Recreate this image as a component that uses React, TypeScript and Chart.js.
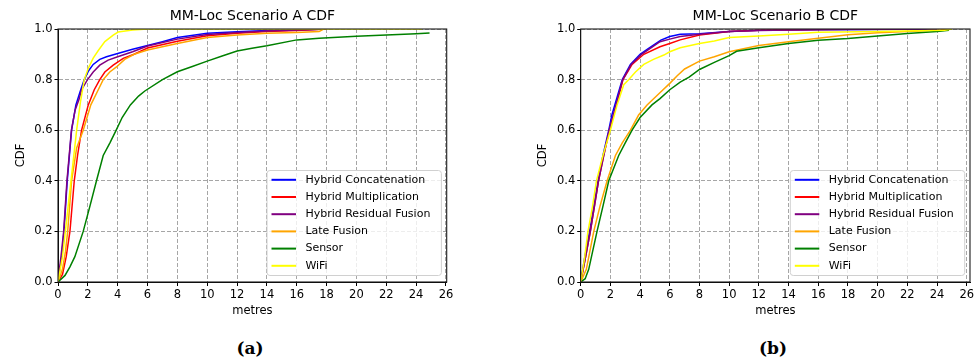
import React, { useEffect, useRef } from "react";
import { Chart, registerables } from "chart.js";

Chart.register(...registerables);

const seriesNames = [
  "Hybrid Concatenation",
  "Hybrid Multiplication",
  "Hybrid Residual Fusion",
  "Late Fusion",
  "Sensor",
  "WiFi",
];
const seriesColors = ["#0000ff", "#ff0000", "#800080", "#ffa500", "#008000", "#ffff00"];

// ---------- Scenario A ----------
const aConcatX = [0, 0.25, 0.4, 0.62, 0.91, 1.2, 1.47, 1.76, 2.05, 2.36, 2.8, 3.25, 4, 5, 6, 7, 8, 10, 12, 14, 16, 18];
const aConcatY = [0, 0.1, 0.2, 0.4, 0.6, 0.7, 0.75, 0.8, 0.835, 0.86, 0.88, 0.89, 0.903, 0.92, 0.935, 0.95, 0.966, 0.983, 0.989, 0.994, 0.996, 1.0];

const aMultX = [0, 0.3, 0.55, 0.8, 1.09, 1.31, 1.58, 2.03, 2.43, 2.8, 3.14, 3.7, 4.37, 5.1, 6, 8, 10, 12, 14, 16, 18];
const aMultY = [0, 0.03, 0.1, 0.2, 0.4, 0.5, 0.6, 0.7, 0.76, 0.8, 0.83, 0.857, 0.884, 0.9, 0.925, 0.952, 0.973, 0.983, 0.99, 0.994, 1.0];

const aResidX = [0, 0.2, 0.38, 0.6, 0.9, 1.15, 1.4, 1.58, 1.98, 2.36, 2.8, 3.36, 4, 5, 6, 8, 10, 12, 14, 16, 18];
const aResidY = [0, 0.1, 0.2, 0.4, 0.6, 0.68, 0.72, 0.76, 0.8, 0.83, 0.857, 0.877, 0.89, 0.91, 0.933, 0.96, 0.978, 0.986, 0.992, 0.996, 1.0];

const aLateX = [0, 0.3, 0.5, 0.65, 0.91, 1.25, 1.69, 2.2, 2.7, 3.03, 3.47, 3.92, 4.47, 5.1, 6, 8, 10, 12, 14, 16, 17.5, 17.8];
const aLateY = [0, 0.05, 0.12, 0.2, 0.4, 0.53, 0.6, 0.7, 0.76, 0.8, 0.83, 0.85, 0.88, 0.9, 0.917, 0.943, 0.966, 0.976, 0.983, 0.986, 0.99, 1.0];

const aSensorX = [0, 0.47, 0.8, 1.13, 1.69, 2.14, 2.58, 3.03, 3.48, 3.9, 4.3, 4.85, 5.4, 5.82, 7, 8, 9, 10, 11, 12, 13, 14, 16, 17.5, 20, 22, 24, 24.9];
const aSensorY = [0, 0.026, 0.06, 0.1, 0.2, 0.3, 0.4, 0.5, 0.55, 0.6, 0.65, 0.7, 0.735, 0.755, 0.8, 0.831, 0.852, 0.873, 0.893, 0.913, 0.924, 0.934, 0.957, 0.963, 0.971, 0.976, 0.981, 0.984];

const aWifiX = [0, 0.3, 0.53, 0.87, 1.25, 1.5, 1.76, 2.03, 2.36, 2.7, 3.14, 3.7, 4.03, 5, 6, 10, 24.4];
const aWifiY = [0, 0.1, 0.22, 0.4, 0.6, 0.71, 0.8, 0.845, 0.885, 0.915, 0.95, 0.976, 0.988, 0.996, 1.0, 1.0, 1.0];

// ---------- Scenario B ----------
const bConcatX = [0, 0.25, 0.6, 1.17, 1.5, 1.89, 2.1, 2.5, 2.8, 3.35, 4.0, 4.5, 5.4, 6.0, 6.7, 8, 10, 12, 16, 20, 24];
const bConcatY = [0, 0.09, 0.2, 0.4, 0.5, 0.6, 0.66, 0.74, 0.8, 0.86, 0.9, 0.92, 0.956, 0.97, 0.979, 0.981, 0.99, 0.995, 0.997, 0.998, 1.0];

const bMultX = [0, 0.3, 0.65, 1.2, 1.55, 1.93, 2.4, 2.85, 3.46, 4.25, 5.34, 6.0, 6.7, 8, 10, 12, 16, 20];
const bMultY = [0, 0.09, 0.2, 0.4, 0.5, 0.6, 0.7, 0.8, 0.86, 0.9, 0.93, 0.943, 0.957, 0.976, 0.99, 0.995, 0.998, 1.0];

const bResidX = [0, 0.3, 0.65, 1.2, 1.55, 1.92, 2.38, 2.83, 3.4, 4.1, 5.34, 6.0, 6.7, 8, 10, 12, 14, 16, 20, 24];
const bResidY = [0, 0.09, 0.2, 0.4, 0.5, 0.6, 0.7, 0.8, 0.86, 0.9, 0.95, 0.96, 0.97, 0.979, 0.99, 0.994, 0.996, 0.998, 0.999, 1.0];

const bLateX = [0, 0.38, 0.88, 1.3, 1.78, 2.34, 2.8, 3.35, 3.9, 4.47, 5.37, 6.0, 6.5, 7, 8, 9, 10, 12, 14, 16, 18, 20, 22, 24, 25];
const bLateY = [0, 0.05, 0.2, 0.3, 0.4, 0.5, 0.55, 0.6, 0.66, 0.7, 0.75, 0.785, 0.815, 0.842, 0.873, 0.89, 0.91, 0.935, 0.95, 0.963, 0.977, 0.985, 0.99, 0.995, 1.0];

const bSensorX = [0, 0.3, 0.54, 0.8, 1.1, 1.5, 1.89, 2.56, 3.0, 3.46, 4.0, 4.8, 5.34, 6.0, 6.7, 7.3, 8, 9, 10, 10.5, 12, 14, 16, 18, 20, 22, 24, 24.8];
const bSensorY = [0, 0.013, 0.05, 0.12, 0.2, 0.3, 0.4, 0.5, 0.55, 0.6, 0.65, 0.7, 0.725, 0.76, 0.79, 0.81, 0.84, 0.868, 0.895, 0.912, 0.926, 0.943, 0.956, 0.962, 0.972, 0.982, 0.99, 0.995];

const bWifiX = [0, 0.25, 0.49, 0.8, 1.06, 1.5, 2.0, 2.45, 2.9, 3.24, 3.69, 4.25, 4.9, 5.6, 6.0, 6.7, 8, 9, 10, 12, 14, 16, 20, 24.5, 25];
const bWifiY = [0, 0.09, 0.2, 0.3, 0.4, 0.5, 0.6, 0.7, 0.78, 0.8, 0.83, 0.86, 0.88, 0.897, 0.91, 0.926, 0.943, 0.953, 0.966, 0.972, 0.979, 0.987, 0.99, 0.995, 1.0];

const xStep = 2;
const yStep = 0.2;

const FONT = "DejaVu Sans";

function pair(xs: number[], ys: number[]) {
  return xs.map((x, i) => ({ x, y: ys[i] }));
}

const framePlugin = {
  id: "frame",
  afterDatasetsDraw(chart: any) {
    const { ctx, chartArea } = chart;
    ctx.save();
    ctx.strokeStyle = "#1a1a1a";
    ctx.lineWidth = 1.1;
    ctx.strokeRect(chartArea.left, chartArea.top, chartArea.right - chartArea.left, chartArea.bottom - chartArea.top);
    ctx.restore();
  },
};

const legendPlugin = {
  id: "innerLegend",
  afterDraw(chart: any) {
    const { ctx, chartArea } = chart;
    const w = 174.4;
    const h = 105;
    const right = chartArea.right - 5.3;
    const bottom = chartArea.bottom - 6.5;
    const left = right - w;
    const top = bottom - h;
    const r = 3;
    ctx.save();
    ctx.beginPath();
    ctx.moveTo(left + r, top);
    ctx.lineTo(right - r, top);
    ctx.quadraticCurveTo(right, top, right, top + r);
    ctx.lineTo(right, bottom - r);
    ctx.quadraticCurveTo(right, bottom, right - r, bottom);
    ctx.lineTo(left + r, bottom);
    ctx.quadraticCurveTo(left, bottom, left, bottom - r);
    ctx.lineTo(left, top + r);
    ctx.quadraticCurveTo(left, top, left + r, top);
    ctx.closePath();
    ctx.fillStyle = "rgba(255,255,255,0.8)";
    ctx.fill();
    ctx.strokeStyle = "#d0d0d0";
    ctx.lineWidth = 1;
    ctx.stroke();
    ctx.font = `11px "${FONT}"`;
    ctx.textBaseline = "middle";
    ctx.textAlign = "left";
    seriesNames.forEach((name, i) => {
      const y = top + 9.3 + i * 17.2;
      ctx.strokeStyle = seriesColors[i];
      ctx.lineWidth = 2;
      ctx.beginPath();
      ctx.moveTo(left + 4.5, y);
      ctx.lineTo(left + 29, y);
      ctx.stroke();
      ctx.fillStyle = "#000";
      ctx.fillText(name, left + 38.4, y);
    });
    ctx.restore();
  },
};

type CdfProps = {
  title: string;
  xs: number[][];
  ys: number[][];
  xMax: number;
  padLeft: number;
  padRight: number;
};

function CdfChart({ title, xs, ys, xMax, padLeft, padRight }: CdfProps) {
  const ref = useRef<HTMLCanvasElement>(null);
  useEffect(() => {
    const datasets = seriesNames.map((name, i) => ({
      label: name,
      data: pair(xs[i], ys[i]),
      borderColor: seriesColors[i],
      backgroundColor: seriesColors[i],
      borderWidth: 1.5,
      pointRadius: 0,
      tension: 0,
      fill: false,
      clip: 0,
      order: seriesNames.length - i,
    }));
    const chart = new Chart(ref.current as HTMLCanvasElement, {
      type: "line",
      data: { datasets },
      plugins: [framePlugin, legendPlugin],
      options: {
        animation: false,
        responsive: false,
        layout: { padding: { left: padLeft, right: padRight, top: 0, bottom: 8 } },
        plugins: {
          legend: { display: false },
          tooltip: { enabled: false },
          title: {
            display: true,
            text: title,
            fullSize: false,
            color: "#000",
            font: { family: FONT, size: 14, weight: "normal" },
            padding: { top: 8.4, bottom: 3.8 },
          },
        },
        scales: {
          x: {
            type: "linear",
            min: 0,
            max: xMax,
            afterFit: (s: any) => {
              s.height = 40;
            },
            ticks: {
              stepSize: xStep,
              includeBounds: false,
              color: "#000",
              padding: 2,
              maxRotation: 0,
              autoSkip: false,
              font: { family: FONT, size: 11.5 },
            },
            grid: {
              color: "#a6a6a6",
              lineWidth: 1,
              tickColor: "#000",
              tickLength: 4,
              tickWidth: 1,
              tickBorderDash: [],
            },
            border: { display: true, color: "#000", width: 1, dash: [4, 2] },
            title: {
              display: true,
              text: "metres",
              color: "#000",
              font: { family: FONT, size: 11.5 },
              padding: { top: 0, bottom: 4.4 },
            },
          },
          y: {
            type: "linear",
            min: 0,
            max: 1,
            afterFit: (s: any) => {
              s.width = 58;
            },
            ticks: {
              stepSize: yStep,
              color: "#000",
              padding: 2,
              font: { family: FONT, size: 11.5 },
              callback: (v: any) => Number(v).toFixed(1),
            },
            grid: {
              color: "#a6a6a6",
              lineWidth: 1,
              tickColor: "#000",
              tickLength: 3.5,
              tickWidth: 1,
              tickBorderDash: [],
            },
            border: { display: true, color: "#000", width: 1, dash: [4, 2] },
            title: {
              display: true,
              text: "CDF",
              color: "#000",
              font: { family: FONT, size: 11.5 },
              padding: { top: 13.8, bottom: 0 },
            },
          },
        },
      } as any,
    });
    return () => chart.destroy();
  }, []);
  return <canvas ref={ref} width={489} height={330} style={{ display: "block" }} />;
}

const captionStyle: React.CSSProperties = {
  position: "absolute",
  top: 337,
  width: 100,
  textAlign: "center",
  fontFamily: '"DejaVu Serif", serif',
  fontWeight: "bold",
  fontSize: 17,
  lineHeight: "22px",
  color: "#000",
};

export default function App() {
  return (
    <div style={{ position: "fixed", left: 0, top: 0, width: 978, height: 362, background: "#fff", overflow: "hidden" }}>
      <div style={{ position: "absolute", left: 0, top: 0 }}>
        <CdfChart
          title="MM-Loc Scenario A CDF"
          xs={[aConcatX, aMultX, aResidX, aLateX, aSensorX, aWifiX]}
          ys={[aConcatY, aMultY, aResidY, aLateY, aSensorY, aWifiY]}
          xMax={26.05}
          padLeft={0}
          padRight={42.3}
        />
      </div>
      <div style={{ position: "absolute", left: 489, top: 0 }}>
        <CdfChart
          title="MM-Loc Scenario B CDF"
          xs={[bConcatX, bMultX, bResidX, bLateX, bSensorX, bWifiX]}
          ys={[bConcatY, bMultY, bResidY, bLateY, bSensorY, bWifiY]}
          xMax={26.22}
          padLeft={33.7}
          padRight={8}
        />
      </div>
      <div style={{ ...captionStyle, left: 200 }}>(a)</div>
      <div style={{ ...captionStyle, left: 723 }}>(b)</div>
    </div>
  );
}
